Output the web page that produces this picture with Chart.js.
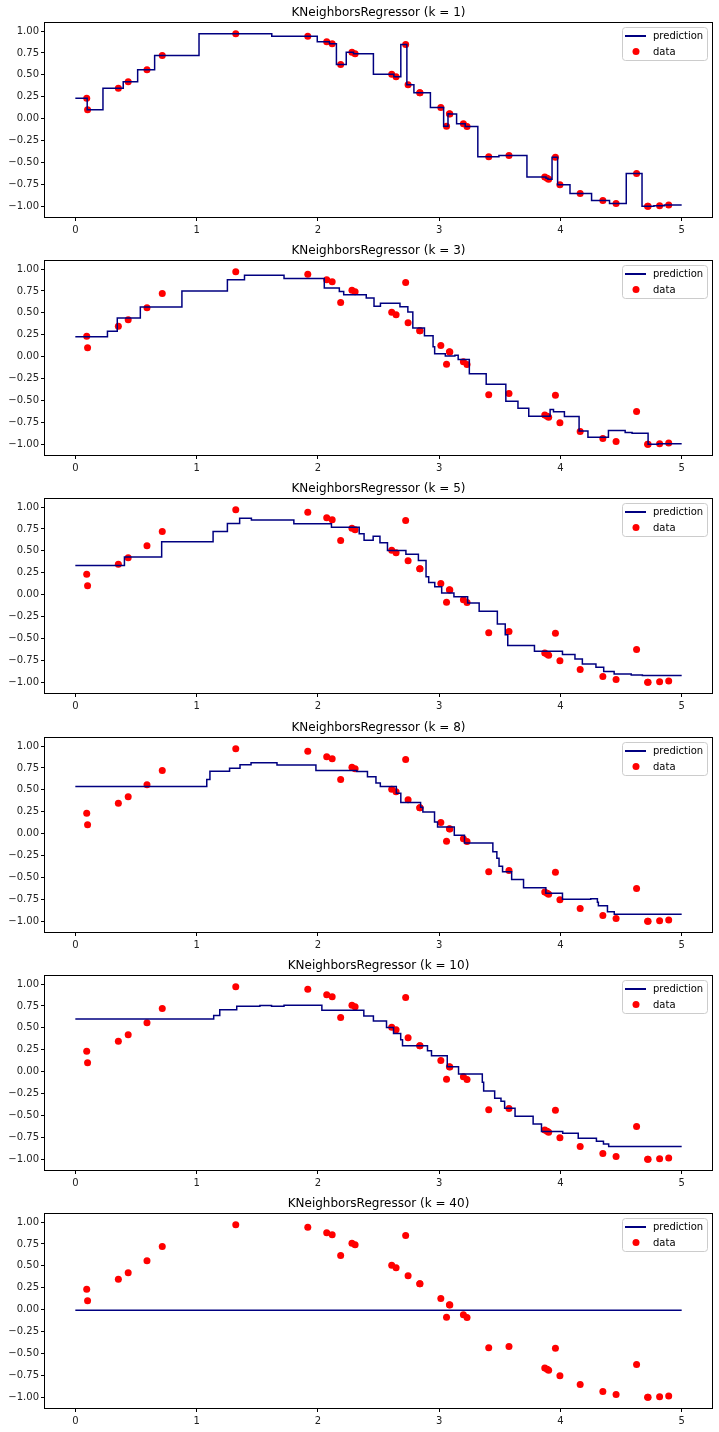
<!DOCTYPE html>
<html>
<head>
<meta charset="utf-8">
<script src="https://cdn.jsdelivr.net/npm/chart.js@4.4.0/dist/chart.umd.min.js"></script>
<style>
  body { margin: 0; background: #fff; }
  #wrap { position: relative; width: 719px; height: 1432px; }
  #wrap canvas { position: absolute; left: 0; }
</style>
</head>
<body>
<div id="wrap"></div>
<script>
// training points
const dataX = [0.094, 0.101, 0.355, 0.436, 0.591, 0.717, 1.323, 1.917, 2.073, 2.118,
  2.188, 2.281, 2.307, 2.609, 2.645, 2.724, 2.744, 2.840, 2.842, 3.014,
  3.061, 3.085, 3.088, 3.200, 3.230, 3.409, 3.576, 3.871, 3.891, 3.903,
  3.959, 3.996, 4.163, 4.350, 4.459, 4.628, 4.719, 4.723, 4.818, 4.893];
const dataY = [0.234, 0.101, 0.348, 0.422, 0.557, 0.720, 0.970, 0.941, 0.877, 0.854,
  0.618, 0.758, 0.741, 0.508, 0.477, 0.845, 0.387, 0.297, 0.295, 0.128,
  -0.086, 0.057, 0.053, -0.058, -0.088, -0.435, -0.421, -0.667, -0.681, -0.690,
  -0.439, -0.754, -0.853, -0.935, -0.968, -0.625, -1.000, -1.000, -0.994, -0.984];

// prediction steps: x where each level starts, and the level
const k1Starts = [0, 0.098, 0.228, 0.395, 0.514, 0.654, 1.020, 1.620, 1.995, 2.096,
  2.153, 2.234, 2.294, 2.458, 2.627, 2.684, 2.734, 2.792, 2.841, 2.928,
  3.037, 3.073, 3.086, 3.144, 3.215, 3.319, 3.493, 3.724, 3.881, 3.897,
  3.931, 3.977, 4.079, 4.257, 4.405, 4.543, 4.673, 4.721, 4.771, 4.856];
const k1Values = [0.234, 0.101, 0.348, 0.422, 0.557, 0.720, 0.970, 0.941, 0.877, 0.854,
  0.618, 0.758, 0.741, 0.508, 0.477, 0.845, 0.387, 0.297, 0.295, 0.128,
  -0.086, 0.057, 0.053, -0.058, -0.088, -0.435, -0.421, -0.667, -0.681, -0.690,
  -0.439, -0.754, -0.853, -0.935, -0.968, -0.625, -1.000, -1.000, -0.994, -0.984];

const k3Starts = [0, 0.265, 0.346, 0.536, 0.879, 1.254, 1.395, 1.721, 2.053, 2.177,
  2.213, 2.399, 2.463, 2.516, 2.677, 2.742, 2.783, 2.879, 2.950, 2.963,
  3.051, 3.130, 3.157, 3.249, 3.388, 3.550, 3.650, 3.739, 3.915, 3.943,
  4.033, 4.154, 4.227, 4.396, 4.534, 4.591, 4.723, 4.806];
const k3Values = [0.228, 0.290, 0.442, 0.566, 0.749, 0.877, 0.929, 0.891, 0.783, 0.743,
  0.706, 0.669, 0.575, 0.610, 0.570, 0.510, 0.326, 0.240, 0.112, 0.033,
  0.008, 0.017, -0.031, -0.194, -0.315, -0.508, -0.590, -0.679, -0.603, -0.628,
  -0.682, -0.847, -0.919, -0.843, -0.864, -0.875, -0.998, -0.993];

const k5Starts = [0, 0.405, 0.712, 1.136, 1.254, 1.355, 1.452, 1.802, 2.112, 2.341,
  2.381, 2.456, 2.512, 2.574, 2.726, 2.829, 2.892, 2.914, 2.964, 3.021,
  3.122, 3.235, 3.330, 3.480, 3.545, 3.566, 3.684, 3.786, 4.017, 4.120,
  4.181, 4.293, 4.357, 4.443, 4.584, 4.676];
const k5Values = [0.332, 0.430, 0.603, 0.722, 0.813, 0.872, 0.852, 0.810, 0.770, 0.696,
  0.620, 0.666, 0.592, 0.503, 0.460, 0.390, 0.204, 0.138, 0.089, 0.019,
  -0.024, -0.094, -0.190, -0.334, -0.458, -0.579, -0.580, -0.646, -0.683, -0.734,
  -0.790, -0.827, -0.876, -0.906, -0.917, -0.921];

const k8Starts = [0, 1.084, 1.110, 1.272, 1.358, 1.449, 1.663, 1.984, 2.321, 2.409,
  2.479, 2.515, 2.647, 2.684, 2.847, 2.866, 2.962, 2.987, 3.125, 3.209,
  3.443, 3.476, 3.494, 3.523, 3.598, 3.696, 3.880, 4.017, 4.250, 4.305,
  4.313, 4.388, 4.444];
const k8Values = [0.537, 0.617, 0.711, 0.745, 0.787, 0.810, 0.783, 0.722, 0.710, 0.649,
  0.579, 0.539, 0.460, 0.356, 0.300, 0.247, 0.134, 0.075, -0.017, -0.106,
  -0.206, -0.280, -0.373, -0.435, -0.522, -0.618, -0.680, -0.748, -0.743, -0.783,
  -0.822, -0.891, -0.920];

const k10Starts = [0, 1.141, 1.191, 1.331, 1.522, 1.618, 1.721, 2.033, 2.379, 2.458,
  2.566, 2.624, 2.683, 2.698, 2.904, 2.937, 3.067, 3.160, 3.356, 3.367,
  3.458, 3.510, 3.540, 3.626, 3.775, 3.844, 4.019, 4.147, 4.297, 4.355,
  4.398];
const k10Values = [0.602, 0.641, 0.707, 0.746, 0.754, 0.746, 0.759, 0.701, 0.636, 0.578,
  0.505, 0.435, 0.365, 0.296, 0.240, 0.183, 0.055, -0.026, -0.122, -0.220,
  -0.302, -0.337, -0.418, -0.509, -0.596, -0.684, -0.703, -0.761, -0.795, -0.826,
  -0.855];

const k40Starts = [0];
const k40Values = [-0.008];

const tEnd = 5;
const kValues = [1, 3, 5, 8, 10, 40];
const predStarts = [k1Starts, k3Starts, k5Starts, k8Starts, k10Starts, k40Starts];
const predValues = [k1Values, k3Values, k5Values, k8Values, k10Values, k40Values];
const xTicks = [0, 1, 2, 3, 4, 5];
const yTicks = [-1, -0.75, -0.5, -0.25, 0, 0.25, 0.5, 0.75, 1];

Chart.defaults.font.family = '"DejaVu Sans", sans-serif';

function stepPoints(starts, values) {
  const pts = [];
  for (let i = 0; i < starts.length; i++) {
    const end = i + 1 < starts.length ? starts[i + 1] : tEnd;
    pts.push({x: starts[i], y: values[i]}, {x: end, y: values[i]});
  }
  return pts;
}

// black box round the axes
const framePlugin = {
  id: 'frame',
  afterDatasetsDraw(chart) {
    const a = chart.chartArea, ctx = chart.ctx;
    ctx.save();
    ctx.strokeStyle = '#000';
    ctx.lineWidth = 1;
    ctx.strokeRect(Math.round(a.left) - 0.5, Math.round(a.top) - 0.5,
      Math.round(a.width) + 1, Math.round(a.height) + 1);
    ctx.restore();
  }
};

// matplotlib style legend in the upper right corner
const legendPlugin = {
  id: 'boxLegend',
  afterDraw(chart) {
    const a = chart.chartArea, ctx = chart.ctx;
    const ds = chart.data.datasets;
    const x = Math.round(a.right) - 90, y = Math.round(a.top) + 4;
    ctx.save();
    ctx.beginPath();
    ctx.roundRect(x + 0.5, y + 0.5, 85, 33, 3);
    ctx.fillStyle = 'rgba(255,255,255,0.8)';
    ctx.fill();
    ctx.strokeStyle = '#cccccc';
    ctx.lineWidth = 1;
    ctx.stroke();
    ctx.strokeStyle = ds[0].borderColor;
    ctx.lineWidth = 2;
    ctx.beginPath();
    ctx.moveTo(x + 3, y + 9);
    ctx.lineTo(x + 24, y + 9);
    ctx.stroke();
    ctx.fillStyle = ds[1].backgroundColor;
    ctx.beginPath();
    ctx.arc(x + 14, y + 24.5, 3.5, 0, 2 * Math.PI);
    ctx.fill();
    ctx.fillStyle = '#000';
    ctx.font = '10px "DejaVu Sans"';
    ctx.textBaseline = 'middle';
    ctx.fillText(ds[0].label, x + 31, y + 9);
    ctx.fillText(ds[1].label, x + 31, y + 25);
    ctx.restore();
  }
};

const wrap = document.getElementById('wrap');
const points = dataX.map((x, i) => ({x: x, y: dataY[i]}));

kValues.forEach((k, i) => {
  const canvas = document.createElement('canvas');
  canvas.width = 719;
  canvas.height = 238;
  canvas.style.top = Math.round(i * 238.2) + 'px';
  wrap.appendChild(canvas);

  new Chart(canvas, {
    type: 'line',
    data: {
      datasets: [{
        label: 'prediction',
        data: stepPoints(predStarts[i], predValues[i]),
        borderColor: 'navy',
        borderWidth: 1.5,
        pointRadius: 0,
        fill: false,
        tension: 0,
      }, {
        type: 'scatter',
        label: 'data',
        data: points,
        backgroundColor: 'red',
        borderWidth: 0,
        pointRadius: 3.5,
      }],
    },
    options: {
      responsive: false,
      animation: false,
      events: [],
      layout: { padding: { left: 0, right: 7, top: 0, bottom: 0 } },
      plugins: {
        legend: { display: false },
        tooltip: { enabled: false },
        title: {
          display: true,
          text: 'KNeighborsRegressor (k = ' + k + ')',
          fullSize: false,
          color: '#000',
          font: { size: 12, weight: 'normal' },
          padding: { top: 6, bottom: 3 },
        },
      },
      scales: {
        x: {
          type: 'linear',
          min: -0.25,
          max: 5.25,
          afterBuildTicks: s => { s.ticks = xTicks.map(v => ({value: v})); },
          afterFit: s => { s.height = 21; },
          grid: { drawOnChartArea: false, tickLength: 4, tickColor: '#000' },
          border: { display: false },
          ticks: { color: '#222', padding: 3, maxRotation: 0, font: { size: 10 },
            callback: v => String(v) },
        },
        y: {
          type: 'linear',
          min: -1.122,
          max: 1.087,
          afterBuildTicks: s => { s.ticks = yTicks.map(v => ({value: v})); },
          afterFit: s => { s.width = 45; },
          grid: { drawOnChartArea: false, tickLength: 4, tickColor: '#000' },
          border: { display: false },
          ticks: { color: '#222', padding: 2, font: { size: 10 },
            callback: v => v.toFixed(2).replace('-', '\u2212') },
        },
      },
    },
    plugins: [framePlugin, legendPlugin],
  });
});
</script>
</body>
</html>
